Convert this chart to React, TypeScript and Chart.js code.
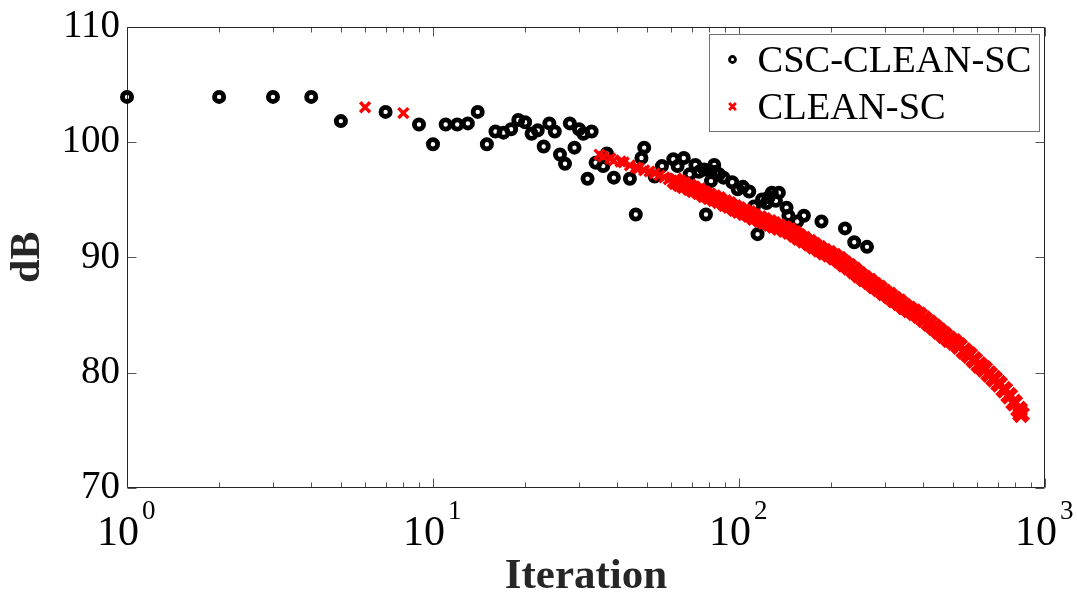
import React, { useEffect, useRef } from 'react';
import { Chart, registerables } from 'chart.js';

Chart.register(...registerables);

const SERIF = '"Liberation Serif", "Times New Roman", Times, serif';

// CSC-CLEAN-SC (black circles)
const cscIter = [1, 2, 3, 4, 5, 7, 9, 10, 11, 12, 13, 14, 15, 16, 17, 18, 19, 20, 21, 22, 23, 24, 25, 26, 27, 28, 29, 30, 31, 32, 33, 34, 36, 37, 39, 44, 46, 48, 49, 53, 56, 61, 63, 66, 69, 72, 74, 77, 78, 80, 81, 83, 84, 86, 89, 95, 99, 103, 108, 112, 115, 119, 123, 125, 128, 132, 135, 143, 145, 155, 163, 186, 222, 238, 262];
const cscDb = [103.9, 103.9, 103.9, 103.9, 101.8, 102.6, 101.5, 99.8, 101.5, 101.5, 101.6, 102.6, 99.8, 100.9, 100.8, 101.1, 101.9, 101.7, 100.7, 101.0, 99.6, 101.6, 100.9, 98.9, 98.1, 101.6, 99.5, 101.1, 100.7, 96.8, 100.9, 98.2, 97.9, 99.0, 96.9, 96.8, 93.7, 98.6, 99.5, 97.0, 97.9, 98.5, 97.9, 98.6, 97.2, 98.0, 97.4, 97.6, 93.7, 97.5, 96.6, 98.0, 97.4, 97.2, 96.9, 96.5, 95.9, 96.1, 95.7, 94.4, 92.0, 95.0, 94.7, 95.2, 95.6, 94.9, 95.6, 94.3, 93.6, 93.1, 93.6, 93.1, 92.5, 91.3, 90.9];

// CLEAN-SC (red crosses)
const cleanIter = [6, 8, 35, 36, 38, 39, 41, 42, 44, 46, 47, 49, 51, 53, 55, 57, 59, 62, 64, 66, 69, 71, 74, 77, 80, 83, 86, 90, 93, 97, 100, 104, 108, 112, 117, 121, 126, 130, 135, 141, 146, 152, 157, 163, 170, 176, 183, 190, 197, 205, 213, 221, 229, 238, 247, 257, 267, 277, 287, 298, 310, 322, 334, 347, 360, 374, 388, 403, 419, 435, 451, 468, 486, 505, 524, 545, 565, 587, 610, 633, 657, 682, 708, 736, 764, 793, 823, 835];
const cleanDb = [103.0, 102.5, 98.90, 98.73, 98.56, 98.39, 98.30, 98.22, 97.96, 97.78, 97.70, 97.53, 97.44, 97.27, 97.10, 96.92, 96.75, 96.58, 96.41, 96.24, 96.06, 95.89, 95.72, 95.46, 95.29, 95.12, 94.95, 94.69, 94.52, 94.26, 94.09, 93.91, 93.74, 93.48, 93.31, 93.14, 92.97, 92.80, 92.62, 92.45, 92.28, 92.02, 91.76, 91.51, 91.25, 90.99, 90.73, 90.47, 90.30, 90.04, 89.78, 89.44, 89.18, 88.84, 88.49, 88.15, 87.89, 87.55, 87.29, 86.95, 86.69, 86.34, 86.09, 85.74, 85.48, 85.23, 84.97, 84.62, 84.28, 83.94, 83.59, 83.25, 82.90, 82.65, 82.30, 81.87, 81.53, 81.10, 80.67, 80.32, 79.89, 79.46, 79.03, 78.52, 78.00, 77.40, 76.80, 76.40];

const yTickValues = [70, 80, 90, 100, 110];
const xDecades = [1, 10, 100, 1000];
const xDecadeExponents = ['0', '1', '2', '3'];
const seriesNames = ['CSC-CLEAN-SC', 'CLEAN-SC'];
const xTitle = 'Iteration';
const yTitle = 'dB';

const framePlugin = {
  id: 'matlabFrame',
  beforeDatasetsDraw(chart: any) {
    const { ctx, chartArea: a, scales } = chart;
    const xs = scales.x;
    const ys = scales.y;
    const L = Math.round(a.left) + 0.5;
    const R = Math.round(a.right) - 0.5;
    const T = Math.round(a.top) + 0.5;
    const B = Math.round(a.bottom) - 0.5;
    ctx.save();
    ctx.lineWidth = 1;
    ctx.strokeStyle = '#555555';
    ctx.beginPath();
    yTickValues.forEach((v) => {
      const y = Math.round(ys.getPixelForValue(v)) + 0.5;
      ctx.moveTo(L, y);
      ctx.lineTo(L + 9, y);
      ctx.moveTo(R, y);
      ctx.lineTo(R - 9, y);
    });
    xDecades.forEach((d) => {
      for (let k = 1; k <= 9; k++) {
        const v = d * k;
        if (v > 1000) break;
        const len = k === 1 ? 9 : 5;
        const x = Math.round(xs.getPixelForValue(v)) + 0.5;
        ctx.moveTo(x, B);
        ctx.lineTo(x, B - len);
        ctx.moveTo(x, T);
        ctx.lineTo(x, T + len);
      }
    });
    ctx.stroke();
    ctx.strokeStyle = '#262626';
    ctx.beginPath();
    ctx.rect(L, T, R - L, B - T);
    ctx.stroke();
    ctx.restore();
  },
  afterDraw(chart: any) {
    const { ctx, chartArea: a, scales } = chart;
    const xs = scales.x;
    ctx.save();
    ctx.fillStyle = '#000000';
    xDecades.forEach((d, i) => {
      const x = xs.getPixelForValue(d);
      ctx.font = `42px ${SERIF}`;
      ctx.textAlign = 'right';
      ctx.textBaseline = 'alphabetic';
      ctx.fillText('10', x + 12, a.bottom + 57);
      ctx.font = `27px ${SERIF}`;
      ctx.textAlign = 'left';
      ctx.fillText(xDecadeExponents[i], x + 15, a.bottom + 31);
    });
    // legend
    const bx = Math.round(a.right) - 335.5;
    const by = Math.round(a.top) + 7.5;
    const bw = 330;
    const bh = 97;
    ctx.fillStyle = '#ffffff';
    ctx.fillRect(bx, by, bw, bh);
    ctx.strokeStyle = '#707070';
    ctx.lineWidth = 1;
    ctx.strokeRect(bx, by, bw, bh);
    const mx = bx + 23;
    const rows = [by + 25, by + 72];
    ctx.beginPath();
    ctx.arc(mx, rows[0], 3.0, 0, Math.PI * 2);
    ctx.strokeStyle = '#000000';
    ctx.lineWidth = 2.8;
    ctx.stroke();
    ctx.beginPath();
    ctx.strokeStyle = '#ff0000';
    ctx.lineWidth = 2.8;
    const c = 3.4;
    ctx.moveTo(mx - c, rows[1] - c);
    ctx.lineTo(mx + c, rows[1] + c);
    ctx.moveTo(mx + c, rows[1] - c);
    ctx.lineTo(mx - c, rows[1] + c);
    ctx.stroke();
    ctx.fillStyle = '#000000';
    ctx.font = `38.5px ${SERIF}`;
    ctx.textAlign = 'left';
    ctx.textBaseline = 'alphabetic';
    ctx.fillText(seriesNames[0], bx + 48, rows[0] + 12.5);
    ctx.fillText(seriesNames[1], bx + 48, rows[1] + 12.5);
    ctx.restore();
  },
};

export default function App() {
  const canvasRef = useRef<HTMLCanvasElement | null>(null);

  useEffect(() => {
    const canvas = canvasRef.current;
    if (!canvas) return;
    const dense = (c: any) => (c.raw && c.raw.x > 60 ? 1 : 0);
    const chart = new Chart(canvas, {
      type: 'scatter',
      data: {
        datasets: [
          {
            label: seriesNames[0],
            data: cscIter.map((x, i) => ({ x, y: cscDb[i] })),
            pointStyle: 'circle',
            pointRadius: 4.6,
            pointBorderWidth: 4.8,
            borderWidth: 4.8,
            borderColor: '#000000',
            pointBorderColor: '#000000',
            pointBackgroundColor: 'rgba(0,0,0,0)',
            backgroundColor: 'rgba(0,0,0,0)',
            clip: false as any,
            order: 1,
          },
          {
            label: seriesNames[1],
            data: cleanIter.map((x, i) => ({ x, y: cleanDb[i] })),
            pointStyle: 'crossRot',
            pointRadius: (c: any) => (dense(c) ? 9.5 : 7),
            pointBorderWidth: (c: any) => (dense(c) ? 6.5 : 3.4),
            borderWidth: 3.4,
            borderColor: '#ff0000',
            pointBorderColor: '#ff0000',
            backgroundColor: '#ff0000',
            clip: false as any,
            order: 0,
          },
        ],
      },
      options: {
        responsive: false,
        maintainAspectRatio: false,
        animation: false,
        devicePixelRatio: 1,
        layout: { autoPadding: false, padding: { top: 21, right: 32, left: 0, bottom: 0 } },
        plugins: {
          legend: { display: false },
          tooltip: { enabled: false },
          title: { display: false },
        },
        scales: {
          x: {
            type: 'logarithmic',
            position: 'bottom',
            min: 1,
            max: 1000,
            grid: { display: false, drawTicks: false },
            border: { display: false },
            ticks: { display: false },
            title: {
              display: true,
              text: xTitle,
              color: '#262626',
              font: { family: SERIF, size: 43, weight: 'bold', lineHeight: 1 },
              padding: { top: 0, bottom: 1 },
            },
            afterFit: (scale: any) => {
              scale.height = 111;
            },
          },
          y: {
            type: 'linear',
            position: 'left',
            min: 70,
            max: 110,
            grid: { display: false, drawTicks: false },
            border: { display: false },
            ticks: {
              stepSize: 10,
              color: '#000000',
              padding: 7,
              font: { family: SERIF, size: 39, lineHeight: 1 },
            },
            title: {
              display: true,
              text: yTitle,
              color: '#262626',
              font: { family: SERIF, size: 42, weight: 'bold', lineHeight: 1 },
              padding: { top: 7, bottom: 0 },
            },
            afterFit: (scale: any) => {
              scale.width = 127;
            },
          },
        },
      },
      plugins: [framePlugin],
    });
    return () => chart.destroy();
  }, []);

  return (
    <div style={{ position: 'absolute', left: 0, top: 0, width: 1077, height: 599, background: '#ffffff' }}>
      <canvas ref={canvasRef} width={1077} height={599} style={{ display: 'block' }} />
    </div>
  );
}
